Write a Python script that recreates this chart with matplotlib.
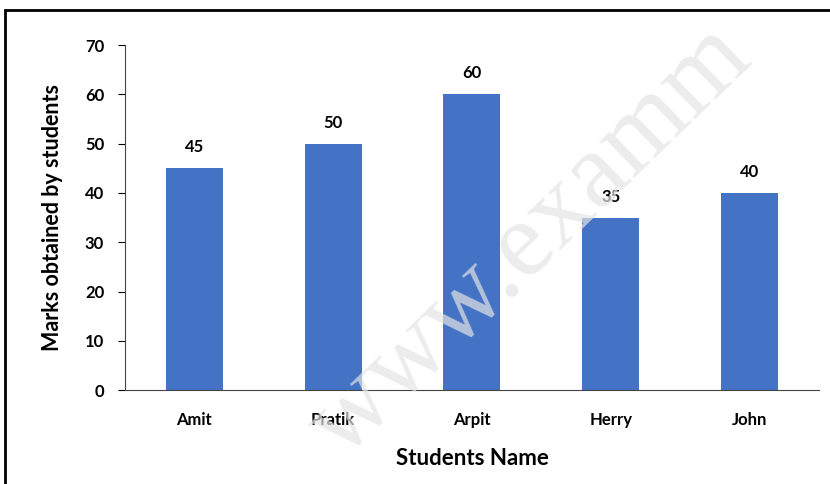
import matplotlib.pyplot as plt
from matplotlib.patches import Rectangle

students = ["Amit", "Pratik", "Arpit", "Herry", "John"]
marks = [45, 50, 60, 35, 40]
y_ticks = [0, 10, 20, 30, 40, 50, 60, 70]

plt.rcParams["font.family"] = ["Lato", "DejaVu Sans"]

fig = plt.figure(figsize=(8.3, 4.84), dpi=100)
ax = fig.add_axes([0.1506, 0.194, 0.836, 0.713])

bars = ax.bar(range(len(students)), marks, width=0.41, color="#4472C4", zorder=2)
for b, v in zip(bars, marks):
    ax.text(b.get_x() + b.get_width() / 2, v + 2.6, str(v), ha="center", va="bottom",
            fontsize=12, fontweight="bold")

ax.set_xlim(-0.5, len(students) - 0.5)
ax.set_ylim(0, 70)
ax.set_yticks(y_ticks)
ax.set_xticks(range(len(students)))
ax.set_xticklabels(students, fontsize=12, fontweight="bold")
ax.tick_params(axis="x", length=0, pad=15.5)
ax.tick_params(axis="y", length=5, width=0.8, pad=10, labelsize=12)
for lab in ax.get_yticklabels():
    lab.set_fontweight("bold")

ax.spines["top"].set_visible(False)
ax.spines["right"].set_visible(False)
ax.spines["left"].set_color("#444444")
ax.spines["bottom"].set_color("#444444")

ax.set_xlabel("Students Name", fontsize=16, fontweight="bold", labelpad=15)
ax.set_ylabel("Marks obtained by students", fontsize=15.5, fontweight="bold", labelpad=16)

# Dış çerçeve
fig.add_artist(Rectangle((5 / 830, -0.2), 2, 0.979 + 0.2, transform=fig.transFigure,
                         fill=False, edgecolor="black", linewidth=2))

# Filigran
fig.text(0.64, 0.5, "www.examm", fontsize=78, family="Liberation Serif", color="#e4e4e4",
         rotation=44, ha="center", va="center", zorder=10, alpha=0.7)

plt.savefig("out.png", dpi=100)
